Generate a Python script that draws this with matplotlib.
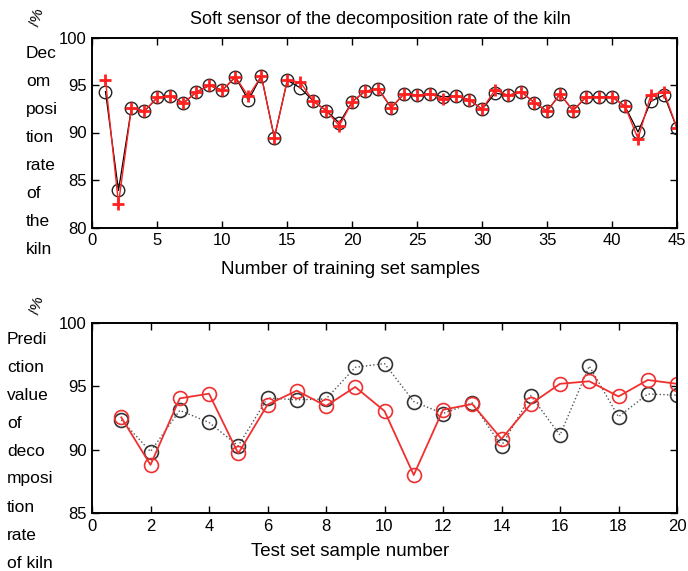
import matplotlib
matplotlib.use("Agg")
import matplotlib.pyplot as plt
import numpy as np

plt.rcParams['font.family'] = ['Liberation Sans', 'DejaVu Sans']

# ---- Data ----
train_idx = list(range(1, 46))
train_pred = [94.3, 83.9, 92.6, 92.25, 93.7, 93.85, 93.1, 94.25, 94.95, 94.45,
              95.85, 93.4, 95.95, 89.45, 95.5, 94.7, 93.3, 92.3, 91.0, 93.25,
              94.35, 94.6, 92.6, 94.1, 93.95, 94.05, 93.75, 93.85, 93.45, 92.45,
              94.15, 93.9, 94.3, 93.15, 92.25, 94.05, 92.3, 93.75, 93.75, 93.75,
              92.75, 90.05, 93.3, 93.95, 90.45]
train_actual = [95.5, 82.5, 92.6, 92.25, 93.7, 93.85, 93.1, 94.25, 94.95, 94.45,
                95.85, 93.8, 95.95, 89.45, 95.5, 95.3, 93.3, 92.3, 90.7, 93.25,
                94.35, 94.6, 92.6, 94.1, 93.95, 94.05, 93.55, 93.85, 93.45, 92.45,
                94.5, 93.9, 94.3, 93.15, 92.25, 94.05, 92.3, 93.75, 93.75, 93.75,
                92.75, 89.35, 94.0, 94.25, 90.45]

test_idx = list(range(1, 21))
test_black = [92.35, 89.85, 93.1, 92.15, 90.3, 94.08, 93.94, 94.0, 96.5, 96.8,
              93.8, 92.85, 93.7, 90.3, 94.26, 91.15, 96.6, 92.6, 94.4, 94.3]
test_red = [92.55, 88.8, 94.05, 94.42, 89.7, 93.55, 94.66, 93.45, 94.95, 93.05,
            88.0, 93.15, 93.6, 90.85, 93.6, 95.2, 95.4, 94.2, 95.5, 95.2]

top_xticks = list(range(0, 46, 5))
top_yticks = [80, 85, 90, 95, 100]
bot_xticks = list(range(0, 21, 2))
bot_yticks = [85, 90, 95, 100]

title = "Soft sensor of the decomposition rate of the kiln"
top_xlabel = "Number of training set samples"
bot_xlabel = "Test set sample number"
top_ylabel_lines = ["Dec", "om", "posi", "tion", "rate", "of", "the", "kiln"]
bot_ylabel_lines = ["Predi", "ction", "value", "of", "deco", "mposi", "tion", "rate", "of kiln"]

W, H = 688, 571
fig = plt.figure(figsize=(W / 100, H / 100), dpi=100)

def px_axes(l, t, r, b):
    return fig.add_axes([l / W, 1 - b / H, (r - l) / W, (b - t) / H])

TICK_FS = 12
LAB_FS = 12.5
XLAB_FS = 13.5
TITLE_FS = 13

def style(ax):
    for s in ax.spines.values():
        s.set_linewidth(1.4)
        s.set_color('black')
    ax.tick_params(direction='in', length=5, width=1.0, top=True, right=True,
                   labelsize=TICK_FS, pad=4)

# ---- Top axes ----
ax1 = px_axes(92.5, 37.5, 677, 227.5)
ax1.plot(train_idx, train_pred, color='black', lw=0.9, marker='o', mfc='none',
         mec='#222222', ms=9, mew=1.0)
ax1.plot(train_idx, train_actual, color='#ff2020', lw=1.0, marker='+',
         ms=9, mew=2.0)
ax1.set_xlim(0, 45)
ax1.set_ylim(80, 100)
ax1.set_xticks(top_xticks)
ax1.set_yticks(top_yticks)
style(ax1)
fig.text(380 / W, 1 - 19 / H, title, ha='center', va='center', fontsize=TITLE_FS)
fig.text(350 / W, 1 - 270 / H, top_xlabel, ha='center', va='center', fontsize=XLAB_FS)
for i, s in enumerate(top_ylabel_lines):
    fig.text(26 / W, 1 - (53 + i * 28) / H, s, ha='left', va='center', fontsize=LAB_FS)
fig.text(37 / W, 1 - 17 / H, "/%", ha='center', va='center', fontsize=11, rotation=75)

# ---- Bottom axes ----
ax2 = px_axes(92, 323, 677, 513)
ax2.plot(test_idx, test_black, color='#555555', lw=1.0, ls=':', marker='o', mfc='none',
         mec='#333333', ms=10, mew=1.2)
ax2.plot(test_idx, test_red, color='#f03030', lw=1.3, marker='o', mfc='none',
         mec='#f03030', ms=10, mew=1.2)
ax2.set_xlim(0, 20)
ax2.set_ylim(85, 100)
ax2.set_xticks(bot_xticks)
ax2.set_yticks(bot_yticks)
style(ax2)
fig.text(350 / W, 1 - 551 / H, bot_xlabel, ha='center', va='center', fontsize=XLAB_FS)
for i, s in enumerate(bot_ylabel_lines):
    fig.text(7 / W, 1 - (339 + i * 28) / H, s, ha='left', va='center', fontsize=LAB_FS)
fig.text(37 / W, 1 - 305 / H, "/%", ha='center', va='center', fontsize=11, rotation=75)

fig.savefig("out.png", dpi=100)
